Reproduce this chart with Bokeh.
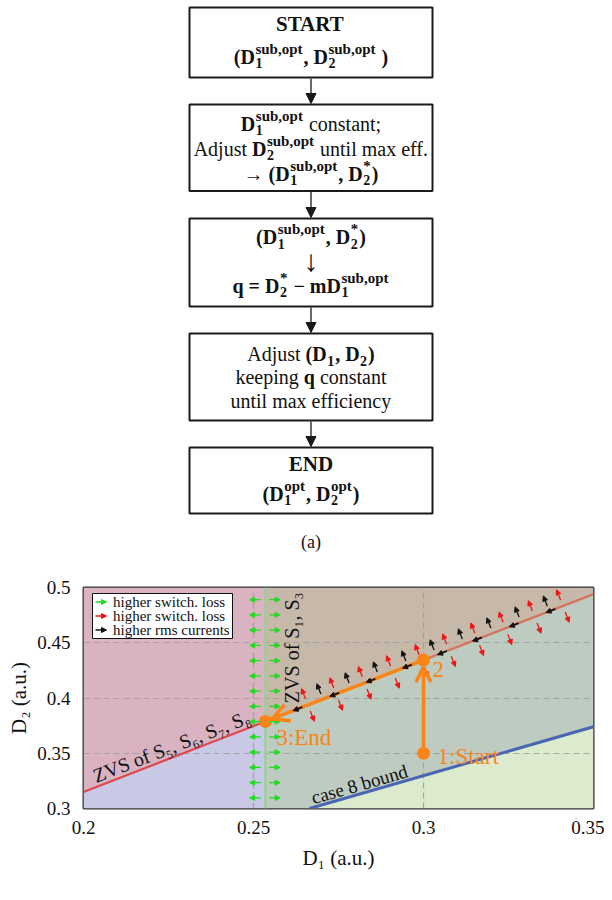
import numpy as np
from bokeh.plotting import figure
from bokeh.models import (ColumnDataSource, Range1d, Arrow, NormalHead, OpenHead,
                          Label, BoxAnnotation, FixedTicker)
from bokeh.layouts import column
from bokeh.embed import file_html
from bokeh.resources import INLINE
from bokeh.core.properties import value

FONT = "Liberation Serif"

# ======================= DATA =======================
# ---- panel (a): flowchart text (runs: n=normal, b=bold, y=symbol, D=bold D with sup/sub)
FLOW_TEXT = [
    [[("b", "START")],
     [("b", "("), ("D", "sub,opt", "1"), ("b", ", "), ("D", "sub,opt", "2"), ("b", " )")]],
    [[("D", "sub,opt", "1"), ("n", " constant;")],
     [("n", "Adjust "), ("D", "sub,opt", "2"), ("n", " until max eff.")],
     [("y", "→ "), ("b", "("), ("D", "sub,opt", "1"), ("b", ", "), ("D", "*", "2"), ("b", ")")]],
    [[("b", "("), ("D", "sub,opt", "1"), ("b", ", "), ("D", "*", "2"), ("b", ")")],
     [("y", "↓")],
     [("b", "q = "), ("D", "*", "2"), ("b", " − m"), ("D", "sub,opt", "1")]],
    [[("n", "Adjust "), ("b", "("), ("D", "", "1"), ("b", ", "), ("D", "", "2"), ("b", ")")],
     [("n", "keeping "), ("b", "q"), ("n", " constant")],
     [("n", "until max efficiency")]],
    [[("b", "END")],
     [("b", "("), ("D", "opt", "1"), ("b", ", "), ("D", "opt", "2"), ("b", ")")]],
]
PANEL_A_CAPTION = "(a)"
PANEL_B_CAPTION = "(b)"

# ---- panel (b): operating plane
X_TICKS = [0.2, 0.25, 0.3, 0.35]
X_TICK_LABELS = ["0.2", "0.25", "0.3", "0.35"]
Y_TICKS = [0.3, 0.35, 0.4, 0.45, 0.5]
Y_TICK_LABELS = ["0.3", "0.35", "0.4", "0.45", "0.5"]
X_LABEL = "D₁ (a.u.)"
Y_LABEL = "D₂ (a.u.)"

zvs_d1 = [0.2, 0.2535, 0.35]          # ZVS boundary (S5..S8 left part, S1,S3 right part)
zvs_d2 = [0.315, 0.3788, 0.494]
case8_d1 = [0.2665, 0.35]             # case 8 bound
case8_d2 = [0.3, 0.374]
bound_d1 = 0.2535                     # vertical (green) boundary

path_d1 = [0.3, 0.3, 0.2535]
path_d2 = [0.35, 0.4343, 0.3788]
path_labels = ["1:Start", "2", "3:End"]

green_left_d1 = 0.2505
green_right_d1 = 0.2562
green_d2 = [0.4890, 0.4752, 0.4614, 0.4476, 0.4338, 0.4200, 0.4062,
            0.3924, 0.3786, 0.3648, 0.3510, 0.3372, 0.3234, 0.3096]
red_pair_d1 = [0.2660, 0.2743, 0.2827, 0.2910, 0.2994, 0.3075, 0.3158, 0.3241, 0.3327, 0.3410]
black_perp_d1 = [0.2704, 0.2787, 0.2870, 0.2954, 0.3037, 0.3120, 0.3204, 0.3287, 0.3370]
black_along_d1 = [0.2630, 0.2738, 0.2845, 0.2952, 0.3055, 0.3158, 0.3266, 0.3374]

legend_labels = ["higher switch. loss", "higher switch. loss", "higher rms currents"]
text_zvs58 = "ZVS of S₅, S₆, S₇, S₈"
text_zvs13 = "ZVS of S₁, S₃"
text_case8 = "case 8 bound"

# ======================= STYLE / LAYOUT =======================
ORANGE = "#fb8417"
GREEN = "#1fdc1f"
RED = "#ee1515"
BLACK = "#111111"
REGION_COLORS = ["#d9b3c1", "#c9c9e6", "#c7b9aa", "#bdcbc1", "#dcebcd"]
MID = 0.3375   # middle of ascent/descent box, in em, above the baseline

# Times/Liberation Serif advance widths (1/1000 em)
NW = {' ': 250, '(': 333, ')': 333, ',': 250, '.': 250, ';': 278, ':': 278, 'A': 722,
      'a': 444, 'c': 444, 'd': 500, 'e': 444, 'f': 333, 'g': 500, 'h': 500, 'i': 278,
      'j': 278, 'k': 500, 'l': 278, 'm': 778, 'n': 500, 'o': 500, 'p': 500, 'q': 500,
      'r': 333, 's': 389, 't': 278, 'u': 500, 'w': 722, 'x': 500, 'y': 500, '*': 500}
BW = {' ': 250, '(': 333, ')': 333, ',': 250, 'S': 556, 'T': 667, 'A': 722, 'R': 722,
      'E': 667, 'N': 722, 'D': 722, 'q': 556, '=': 570, '−': 570, 'm': 833, 's': 389,
      'u': 556, 'b': 556, 'o': 500, 'p': 556, 't': 333, '1': 500, '2': 500, '*': 500}
SW = {'→': 1000, '↓': 500, ' ': 250}


def tw(s, kind, size):
    tab = {"b": BW, "n": NW, "y": SW}[kind]
    return sum(tab.get(c, 500) for c in s) * size / 1000.0


PAGE_W = 604
FRAME_L, FRAME_R = 83, 593          # shared frame edges (page px)
FA_H = 556
CX = 310.5
BOX_X = (189, 432)
BOX_Y = [(7, 77), (104, 190.5), (218, 306), (333, 420), (447, 513)]
BASELINES = [[30.5, 63], [130, 155, 180], [243.3, 270, 292], [360.7, 383.3, 407.3], [470.7, 500]]
LINE_SIZES = {(0, 0): 21, (4, 0): 21, (2, 1): 30}
CAPTION_A_Y = 541
MAIN, SUP_FS, SUB_FS = 20, 15, 14
SUP_RAISE, SUB_DROP = 9.5, 4.5

# ======================= PANEL (a) =======================
fa = figure(width=PAGE_W, height=FA_H, x_range=Range1d(FRAME_L, FRAME_R),
            y_range=Range1d(FA_H, 0), output_backend="svg", toolbar_location=None,
            min_border_left=FRAME_L, min_border_right=PAGE_W - FRAME_R,
            min_border_top=0, min_border_bottom=0,
            x_axis_location=None, y_axis_location=None)
fa.title.visible = False
fa.grid.visible = False
fa.outline_line_color = None

fa.quad(left=BOX_X[0], right=BOX_X[1], top=[t for t, b in BOX_Y], bottom=[b for t, b in BOX_Y],
        fill_color="white", line_color="#1a1a1a", line_width=2)
for i in range(len(BOX_Y) - 1):
    fa.add_layout(Arrow(x_start=CX, y_start=BOX_Y[i][1] + 1, x_end=CX, y_end=BOX_Y[i + 1][0] - 1,
                        line_color="#1a1a1a", line_width=1.3,
                        end=NormalHead(size=10, fill_color="#1a1a1a", line_color="#1a1a1a",
                                       line_width=1)))

groups = {}   # (size, style) -> dict(x, y, text)
for bi, box in enumerate(FLOW_TEXT):
    for li, runs in enumerate(box):
        size = LINE_SIZES.get((bi, li), MAIN)
        base = BASELINES[bi][li]
        pieces = []
        cur = 0.0
        for r in runs:
            kind = r[0]
            if kind in ("n", "b", "y"):
                txt = r[1]
                lead = len(txt) - len(txt.lstrip(" "))
                cur += tw(" " * lead, kind, size)     # SVG drops leading blanks
                txt = txt.lstrip(" ")
                pieces.append((cur, 0.0, txt, size, "bold" if kind == "b" else "normal"))
                cur += tw(txt, kind, size)
            else:
                sup, sub = r[1], r[2]
                pieces.append((cur, 0.0, "D", size, "bold"))
                cur += tw("D", "b", size)
                w = 0.0
                if sup:
                    pieces.append((cur + 0.5, -SUP_RAISE, sup, SUP_FS, "bold"))
                    w = max(w, tw(sup, "b", SUP_FS))
                if sub:
                    pieces.append((cur + 0.5, SUB_DROP, sub, SUB_FS, "bold"))
                    w = max(w, tw(sub, "b", SUB_FS))
                cur += w + 1.5
        x0 = CX - cur / 2.0
        for dx, dy, t, fs, st in pieces:
            d = groups.setdefault((int(fs), st), dict(x=[], y=[], text=[]))
            d["x"].append(x0 + dx)
            d["y"].append(base + dy - MID * fs)
            d["text"].append(t)

for (fs, st), d in groups.items():
    fa.text(x="x", y="y", text="text", source=ColumnDataSource(d), text_font=value(FONT),
            text_font_size=f"{fs}px", text_font_style=st, text_align="left",
            text_baseline="middle", text_color="#111111")
fa.text(x=[CX], y=[CAPTION_A_Y], text=[PANEL_A_CAPTION], text_font=value(FONT),
        text_font_size="18px", text_align="center", text_baseline="middle",
        text_color="#111111")

# ======================= PANEL (b) =======================
X0, X1 = X_TICKS[0], X_TICKS[-1]
Y0, Y1 = Y_TICKS[0], Y_TICKS[-1]
FB_TOP, FB_BOTTOM = 587, 808         # frame edges (page px)
FB_H = 900 - FA_H
FW, FH = FRAME_R - FRAME_L, FB_BOTTOM - FB_TOP
sx = FW / (X1 - X0)
sy = FH / (Y1 - Y0)

fb = figure(width=PAGE_W, height=FB_H, x_range=Range1d(X0, X1), y_range=Range1d(Y0, Y1),
            output_backend="svg", toolbar_location=None,
            min_border_left=FRAME_L, min_border_right=PAGE_W - FRAME_R,
            min_border_top=FB_TOP - FA_H, min_border_bottom=FA_H + FB_H - FB_BOTTOM)
fb.title.visible = False
fb.background_fill_color = "white"
fb.border_fill_color = "white"
fb.outline_line_color = "#333333"
fb.outline_line_width = 2
fb.outline_line_alpha = 1

# regions
yb = zvs_d2[1]
reg_x = [[X0, bound_d1, bound_d1, X0],
         [X0, bound_d1, bound_d1, X0],
         [bound_d1, zvs_d1[2], zvs_d1[2], bound_d1],
         [bound_d1, case8_d1[0], case8_d1[1], zvs_d1[2], bound_d1],
         [case8_d1[0], X1, case8_d1[1]]]
reg_y = [[zvs_d2[0], yb, Y1, Y1],
         [Y0, Y0, yb, zvs_d2[0]],
         [yb, zvs_d2[2], Y1, Y1],
         [Y0, Y0, case8_d2[1], zvs_d2[2], yb],
         [Y0, Y0, case8_d2[1]]]
fb.patches(xs=reg_x, ys=reg_y, fill_color=REGION_COLORS, line_color=None, level="image")

# grid (drawn above the fills)
fb.xgrid.ticker = FixedTicker(ticks=X_TICKS)
fb.ygrid.ticker = FixedTicker(ticks=Y_TICKS)
fb.grid.grid_line_color = "#9c9c9c"
fb.grid.grid_line_alpha = 0.85
fb.grid.grid_line_dash = "6 4"
fb.grid.grid_line_width = 1.2

# axes
fb.xaxis.ticker = FixedTicker(ticks=X_TICKS)
fb.yaxis.ticker = FixedTicker(ticks=Y_TICKS)
fb.xaxis.major_label_overrides = {t: l for t, l in zip(X_TICKS, X_TICK_LABELS)}
fb.yaxis.major_label_overrides = {t: l for t, l in zip(Y_TICKS, Y_TICK_LABELS)}
fb.axis.axis_line_color = None
fb.axis.major_tick_line_color = None
fb.axis.minor_tick_line_color = None
fb.axis.major_label_text_font = FONT
fb.axis.major_label_text_font_size = "19px"
fb.axis.major_label_text_color = "#111111"
fb.xaxis.major_label_standoff = 6
fb.yaxis.major_label_standoff = 7
fb.xaxis.axis_label = X_LABEL
fb.yaxis.axis_label = Y_LABEL
fb.axis.axis_label_text_font = FONT
fb.axis.axis_label_text_font_size = "21px"
fb.axis.axis_label_text_font_style = "normal"
fb.axis.axis_label_text_color = "#111111"
fb.xaxis.axis_label_standoff = 9
fb.yaxis.axis_label_standoff = 3

# boundary lines
fb.segment(x0=[bound_d1], y0=[Y0], x1=[bound_d1], y1=[Y1], line_color="#8fd48a", line_width=2)
fb.line(zvs_d1[:2], zvs_d2[:2], line_color="#e0474a", line_width=2.2)
fb.line(zvs_d1[1:], zvs_d2[1:], line_color="#d6735c", line_width=2.2)
fb.line(case8_d1, case8_d2, line_color="#4866b4", line_width=3)

# rotated labels
slope_l = (zvs_d2[1] - zvs_d2[0]) / (zvs_d1[1] - zvs_d1[0]) * sy / sx
slope_r = (zvs_d2[2] - zvs_d2[1]) / (zvs_d1[2] - zvs_d1[1]) * sy / sx
slope_b = (case8_d2[1] - case8_d2[0]) / (case8_d1[1] - case8_d1[0]) * sy / sx
th_l, th_r, th_b = np.arctan(slope_l), np.arctan(slope_r), np.arctan(slope_b)


def screen_off(theta, along, up):
    return (float(along * np.cos(theta) - up * np.sin(theta)),
            float(-along * np.sin(theta) - up * np.cos(theta)))


ox, oy = screen_off(th_l, 15, 4 + MID * 20)
fb.text(x=[zvs_d1[0]], y=[zvs_d2[0]], text=[text_zvs58], angle=float(th_l),
        x_offset=ox, y_offset=oy, text_font=value(FONT), text_font_size="20px",
        text_align="left", text_baseline="middle", text_color="#111111")
fb.text(x=[bound_d1], y=[Y1], text=[text_zvs13], angle=float(np.pi / 2),
        x_offset=27, y_offset=5, text_font=value(FONT), text_font_size="20px",
        text_align="right", text_baseline="middle", text_color="#111111")
ox, oy = screen_off(th_b, 5, 3 + MID * 19)
fb.text(x=[case8_d1[0]], y=[case8_d2[0]], text=[text_case8], angle=float(th_b),
        x_offset=ox, y_offset=oy, text_font=value(FONT), text_font_size="19px",
        text_align="left", text_baseline="middle", text_color="#111111")

# orange path points and labels
fb.scatter(path_d1, path_d2, size=13, fill_color=ORANGE, line_color=None)
fb.text(x=path_d1, y=path_d2, text=path_labels, x_offset=[14, 9, 11], y_offset=[3, 9.5, 16],
        text_font=value(FONT), text_font_size="23px", text_align="left", text_baseline="middle",
        text_color=ORANGE)

# quiver arrows
ux, uy = np.cos(th_r), np.sin(th_r)
nx, ny = -np.sin(th_r), np.cos(th_r)


def add_arrows(xs, ys, xe, ye, color, lw=1.3, head=5):
    src = ColumnDataSource(dict(xs=list(xs), ys=list(ys), xe=list(xe), ye=list(ye)))
    fb.add_layout(Arrow(x_start="xs", y_start="ys", x_end="xe", y_end="ye", source=src,
                        line_color=color, line_width=lw,
                        end=NormalHead(size=head, fill_color=color, line_color=color,
                                       line_width=1)))


def perp(d1s, center, half, sign):
    d1s = np.asarray(d1s)
    d2s = np.interp(d1s, zvs_d1, zvs_d2)
    a0, a1 = sign * (center - half), sign * (center + half)
    return (d1s + a0 * nx / sx, d2s + a0 * ny / sy, d1s + a1 * nx / sx, d2s + a1 * ny / sy)


gy = np.asarray(green_d2)
add_arrows(np.full_like(gy, green_left_d1 + 5.5 / sx), gy,
           np.full_like(gy, green_left_d1 - 5.5 / sx), gy, GREEN)
add_arrows(np.full_like(gy, green_right_d1 - 5.5 / sx), gy,
           np.full_like(gy, green_right_d1 + 5.5 / sx), gy, GREEN)
add_arrows(*perp(red_pair_d1, 12, 5.5, +1), RED)
add_arrows(*perp(red_pair_d1, 12, 5.5, -1), RED)
add_arrows(*perp(black_perp_d1, 11, 5.5, +1), BLACK)

# orange path arrows
fb.add_layout(Arrow(x_start=path_d1[0], y_start=path_d2[0], x_end=path_d1[1],
                    y_end=path_d2[1] - 7 / sy, line_color=ORANGE, line_width=3.5,
                    end=OpenHead(size=15, line_color=ORANGE, line_width=3.5)))
fb.add_layout(Arrow(x_start=path_d1[1], y_start=path_d2[1], x_end=path_d1[2] + 7 * ux / sx,
                    y_end=path_d2[2] + 7 * uy / sy, line_color=ORANGE, line_width=3.5,
                    end=OpenHead(size=17, line_color=ORANGE, line_width=3.5)))

ba = np.asarray(black_along_d1)
bb = np.interp(ba, zvs_d1, zvs_d2)
add_arrows(ba + 5 * ux / sx, bb + 5 * uy / sy, ba - 5 * ux / sx, bb - 5 * uy / sy, BLACK, lw=1.8)

# legend (drawn manually to show arrow icons)
LEG_L, LEG_T, LEG_W, LEG_H, ROW = 9, 6, 140, 45, 14
fb.add_layout(BoxAnnotation(left=LEG_L, right=LEG_L + LEG_W, top=FH - LEG_T,
                            bottom=FH - LEG_T - LEG_H, left_units="screen", right_units="screen",
                            top_units="screen", bottom_units="screen", fill_color="white",
                            fill_alpha=1, line_color="#111111", line_alpha=1, line_width=1))
for i, (lab, col) in enumerate(zip(legend_labels, [GREEN, RED, BLACK])):
    yy = FH - LEG_T - 8.5 - ROW * i
    fb.add_layout(Arrow(x_start=LEG_L + 3, y_start=yy, x_end=LEG_L + 14, y_end=yy,
                        start_units="screen", end_units="screen", line_color=col, line_width=1.3,
                        end=NormalHead(size=5, fill_color=col, line_color=col, line_width=1)))
    fb.add_layout(Label(x=LEG_L + 20.5, y=yy, x_units="screen", y_units="screen", text=lab,
                        text_font=FONT, text_font_size="15px", text_baseline="middle",
                        text_color="#111111"))

fb.add_layout(Label(x=CX - FRAME_L, y=-(887 - FB_BOTTOM), x_units="screen", y_units="screen",
                    text=PANEL_B_CAPTION, text_font=FONT, text_font_size="18px",
                    text_align="center", text_baseline="middle", text_color="#111111"))

layout = column(fa, fb)
open("out.html", "w").write(file_html(layout, INLINE))
